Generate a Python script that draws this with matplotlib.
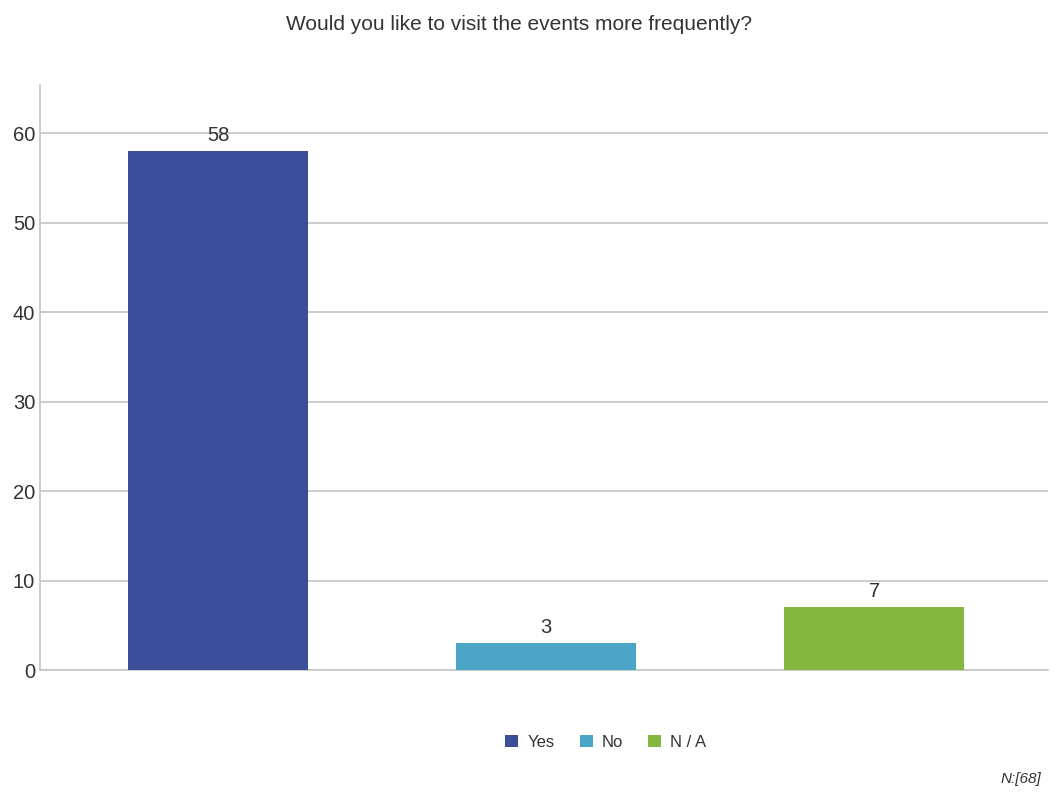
import matplotlib.pyplot as plt
from matplotlib.patches import Patch

plt.rcParams['font.family'] = ['Liberation Sans', 'DejaVu Sans']

# survey answers
categories = ['Yes', 'No', 'N / A']
counts = [58, 3, 7]
colors = ['#3a4e9a', '#4aa6c4', '#85b840']
yticks = [0, 10, 20, 30, 40, 50, 60]

fig = plt.figure(figsize=(10.5, 7.93), dpi=100)
ax = fig.add_axes([0.0381, 0.1551, 0.9599, 0.7377])

x = list(range(len(categories)))
bars = ax.bar(x, counts, width=0.549, color=colors, zorder=3)
for b, v in zip(bars, counts):
    ax.text(b.get_x() + b.get_width() / 2, v + 0.7, str(v), ha='center', va='bottom',
            fontsize=14.5, color='#333333')

ax.set_xlim(-0.543, 2.53)
ax.set_ylim(0, 65.4)
ax.set_yticks(yticks)
ax.set_xticks([])
ax.grid(axis='y', color='#c4c4c4', linewidth=1.2, zorder=0)
for s in ['top', 'right']:
    ax.spines[s].set_visible(False)
ax.spines['left'].set_color('#c4c4c4')
ax.spines['bottom'].set_color('#c4c4c4')
ax.spines['left'].set_linewidth(1.2)
ax.spines['bottom'].set_linewidth(1.2)
ax.tick_params(axis='y', length=0, labelsize=14.5, labelcolor='#333333', pad=3.5)

fig.text(0.494, 0.969, 'Would you like to visit the events more frequently?', ha='center',
         va='center', fontsize=15, color='#333333')

handles = [Patch(facecolor=c, label=l) for c, l in zip(colors, categories)]
fig.legend(handles=handles, loc='center', bbox_to_anchor=(0.577, 0.064), ncol=3, frameon=False,
           fontsize=12, handlelength=0.78, handleheight=0.7, columnspacing=1.5, handletextpad=0.55,
           labelcolor='#333333')

fig.text(0.9914, 0.009, 'N:[68]', ha='right', va='bottom', fontsize=11, style='italic', color='#333333')

fig.savefig('out.png', dpi=100)
